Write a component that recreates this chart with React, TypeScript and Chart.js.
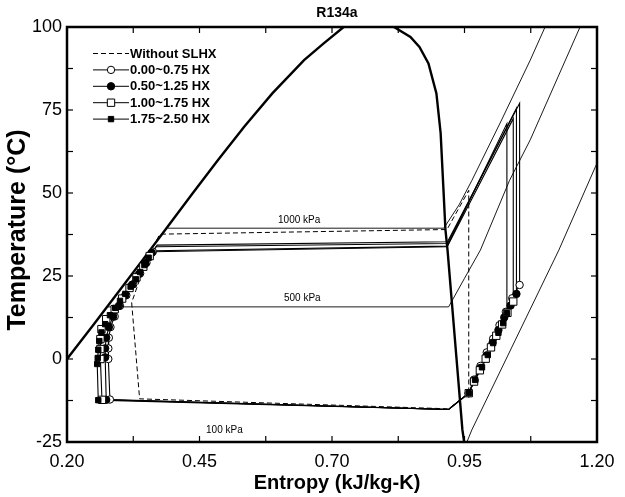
import React, { useEffect, useRef } from 'react';
import { Chart, registerables } from 'chart.js';

Chart.register(...registerables);

type P = [number, number];

// axis ticks
const xTicks = [0.2, 0.45, 0.7, 0.95, 1.2];
const xMinor = [0.325, 0.575, 0.825, 1.075];
const yTicks = [-25, 0, 25, 50, 75, 100];
const yMinor = [-12.5, 12.5, 37.5, 62.5, 87.5];

// saturation dome (entropy, temperature)
const dome: P[] = [
  [0.141, -12], [0.2, 0], [0.2485, 10], [0.2962, 20], [0.3435, 30], [0.3905, 40], [0.4375, 50],
  [0.4853, 60], [0.5347, 70], [0.5874, 80], [0.6473, 90], [0.6838, 95], [0.722, 100], [0.745, 101.3],
  [0.77, 101.7], [0.795, 101.3], [0.817, 100], [0.848, 97], [0.865, 94], [0.882, 89], [0.897, 80],
  [0.905, 68], [0.91, 52], [0.914, 39], [0.918, 32.8], [0.935, 0], [0.946, -21.3], [0.952, -28],
];

// isobars
const iso1000: P[] = [[0.39, 39.4], [0.911, 39.4], [0.94, 46.5], [0.964, 53.8], [1.02, 72], [1.074, 90], [1.102, 100], [1.13, 110]];
const iso500: P[] = [[0.277, 15.7], [0.92, 15.7], [0.95, 24.3], [0.98, 32.8], [1.035, 53.8], [1.074, 66], [1.168, 100], [1.2, 112]];
const iso100: P[] = [[0.951, -26.4], [0.964, -21.3], [1.128, 32.8], [1.197, 57.9], [1.22, 66]];
const isoLabels = ['1000 kPa', '500 kPa', '100 kPa'];
const isoLabelAt: P[] = [[0.638, 41.8], [0.644, 18.2], [0.497, -21.5]];

// cycle without SLHX
const noHx: P[] = [
  [0.322, 17], [0.337, -12.0], [0.92, -15.0], [0.958, -10.3], [0.958, 50.8], [0.917, 39.0],
  [0.375, 37.6], [0.36, 33], [0.345, 27.5], [0.322, 17],
];

// 0.00~0.75 HX
const condA: P[] = [[0.918, 35.3], [0.37, 34.3]];
const liqA: P[] = [[0.362, 32.3], [0.35, 29], [0.338, 25.8], [0.325, 22.5], [0.312, 19.2], [0.3, 16], [0.29, 12.8], [0.282, 9.6], [0.279, 6.4], [0.278, 3.2], [0.278, 0]];
const evapA: P[] = [[0.281, -12.2], [0.92, -15.2]];
const vapA: P[] = [[0.958, -10.3], [0.968, -6.2], [0.98, -2.1], [0.992, 2], [1.004, 6.1], [1.016, 10.2], [1.028, 14.2], [1.04, 18.3], [1.054, 22.3]];
const dischA: P[] = [[1.054, 77], [0.918, 35.3]];

// 0.50~1.25 HX
const condB: P[] = [[0.918, 34.8], [0.368, 33.8]];
const liqB: P[] = [[0.36, 32], [0.348, 28.8], [0.336, 25.6], [0.323, 22.4], [0.31, 19.2], [0.298, 16], [0.287, 12.8], [0.279, 9.6], [0.274, 6.4], [0.272, 3.2], [0.272, 0.5]];
const evapB: P[] = [[0.274, -12.3], [0.92, -15.2]];
const vapB: P[] = [[0.958, -10.3], [0.969, -6.5], [0.98, -2.7], [0.992, 1.1], [1.003, 4.9], [1.014, 8.7], [1.025, 12.5], [1.037, 16.1], [1.048, 19.6]];
const dischB: P[] = [[1.048, 75.5], [0.918, 34.8]];

// 1.00~1.75 HX
const condC: P[] = [[0.918, 34.0], [0.365, 32.6]];
const liqC: P[] = [[0.356, 31], [0.344, 27.8], [0.331, 24.6], [0.318, 21.4], [0.304, 18.2], [0.29, 15], [0.274, 12], [0.265, 9], [0.263, 6], [0.263, 3], [0.263, 0]];
const evapC: P[] = [[0.266, -12.3], [0.92, -15.2]];
const vapC: P[] = [[0.958, -10.3], [0.968, -6.8], [0.979, -3.4], [0.99, 0.1], [1.0, 3.5], [1.01, 7], [1.021, 10.4], [1.031, 13.9], [1.042, 17.3]];
const dischC: P[] = [[1.042, 72.4], [0.918, 34.0]];

// 1.75~2.50 HX
const condD: P[] = [[0.917, 33.8], [0.362, 32.3]];
const liqD: P[] = [[0.354, 30.5], [0.346, 28.3], [0.338, 26.2], [0.33, 24], [0.32, 21.8], [0.31, 19.6], [0.3, 17.5], [0.291, 15.4], [0.281, 13.2], [0.272, 10.5], [0.265, 8], [0.261, 5.4], [0.259, 2.8], [0.258, 0.3], [0.257, -1.5]];
const evapD: P[] = [[0.259, -12.4], [0.92, -15.2]];
const vapD: P[] = [[0.958, -10.3], [0.97, -6.3], [0.983, -2.5], [0.994, 1.2], [1.004, 4.8], [1.014, 7.9], [1.023, 10.8], [1.03, 13.8]];
const dischD: P[] = [[1.03, 70.9], [0.917, 33.8]];

const legendLabels = ['Without SLHX', '0.00~0.75 HX', '0.50~1.25 HX', '1.00~1.75 HX', '1.75~2.50 HX'];

const FONT = '"Liberation Sans", Arial, Helvetica, sans-serif';

const toXY = (pts: P[]) => pts.map(([x, y]) => ({ x, y }));

type MarkerKind = 'oc' | 'fc' | 'os' | 'fs';
const markerStyle: Record<MarkerKind, any> = {
  oc: { pointStyle: 'circle', pointRadius: 3.7, pointBackgroundColor: '#fff', pointBorderColor: '#000', pointBorderWidth: 1 },
  fc: { pointStyle: 'circle', pointRadius: 3.7, pointBackgroundColor: '#000', pointBorderColor: '#000', pointBorderWidth: 1 },
  os: { pointStyle: 'rect', pointRadius: 5.2, pointBackgroundColor: '#fff', pointBorderColor: '#000', pointBorderWidth: 1 },
  fs: { pointStyle: 'rect', pointRadius: 3.8, pointBackgroundColor: '#000', pointBorderColor: '#000', pointBorderWidth: 1 },
};

function drawMarker(ctx: CanvasRenderingContext2D, kind: MarkerKind, x: number, y: number) {
  const s = markerStyle[kind];
  ctx.beginPath();
  if (s.pointStyle === 'circle') {
    ctx.arc(x, y, s.pointRadius, 0, Math.PI * 2);
  } else {
    const h = s.pointRadius * Math.SQRT1_2;
    ctx.rect(x - h, y - h, 2 * h, 2 * h);
  }
  ctx.fillStyle = s.pointBackgroundColor;
  ctx.fill();
  ctx.lineWidth = 1;
  ctx.strokeStyle = '#000';
  ctx.stroke();
}

const decor = {
  id: 'decor',
  afterDraw(chart: any) {
    const { ctx, chartArea: a, scales } = chart;
    const x = scales.x;
    const y = scales.y;
    ctx.save();
    ctx.strokeStyle = '#000';
    ctx.lineWidth = 1.2;
    const tl = 6;
    const seg = (x1: number, y1: number, x2: number, y2: number) => {
      ctx.beginPath();
      ctx.moveTo(x1, y1);
      ctx.lineTo(x2, y2);
      ctx.stroke();
    };
    [...xTicks, ...xMinor].forEach((v) => {
      const px = x.getPixelForValue(v);
      seg(px, a.bottom, px, a.bottom - tl);
      seg(px, a.top, px, a.top + tl);
    });
    [...yTicks, ...yMinor].forEach((v) => {
      const py = y.getPixelForValue(v);
      seg(a.left, py, a.left + tl, py);
      seg(a.right, py, a.right - tl, py);
    });
    ctx.lineWidth = 2.5;
    ctx.strokeRect(a.left, a.top, a.right - a.left, a.bottom - a.top);

    ctx.fillStyle = '#000';
    // title
    ctx.font = `bold 14px ${FONT}`;
    ctx.textAlign = 'center';
    ctx.textBaseline = 'middle';
    ctx.fillText('R134a', 337, 13);
    // axis titles
    ctx.font = `bold 20px ${FONT}`;
    ctx.fillText('Entropy (kJ/kg-K)', 337, 483);
    ctx.save();
    ctx.font = `bold 25px ${FONT}`;
    ctx.translate(18, 230);
    ctx.rotate(-Math.PI / 2);
    ctx.fillText('Temperature (\u00B0C)', 0, 0);
    ctx.restore();

    // isobar labels
    ctx.font = `10px ${FONT}`;
    isoLabels.forEach((t, i) => {
      const [s, T] = isoLabelAt[i];
      ctx.fillText(t, x.getPixelForValue(s), y.getPixelForValue(T));
    });

    // legend
    const kinds: (MarkerKind | 'dash')[] = ['dash', 'oc', 'fc', 'os', 'fs'];
    ctx.font = `bold 13px ${FONT}`;
    ctx.textAlign = 'left';
    legendLabels.forEach((label, i) => {
      const yy = 53.5 + i * 16.4;
      const k = kinds[i];
      ctx.lineWidth = 1;
      ctx.strokeStyle = '#000';
      if (k === 'dash') {
        ctx.setLineDash([5, 3]);
        seg(93, yy, 129, yy);
        ctx.setLineDash([]);
      } else {
        seg(93, yy, 129, yy);
        drawMarker(ctx, k, 111, yy);
      }
      ctx.fillStyle = '#000';
      ctx.fillText(label, 130, yy + 0.5);
    });
    ctx.restore();
  },
};

const lineDs = (pts: P[], extra: any = {}) => ({
  data: toXY(pts),
  showLine: true,
  borderColor: '#000',
  borderWidth: 1.1,
  pointRadius: 0,
  pointHoverRadius: 0,
  tension: 0,
  fill: false,
  order: 1,
  ...extra,
});

const markerDs = (pts: P[], kind: MarkerKind, order: number) => ({
  data: toXY(pts),
  showLine: false,
  order,
  ...markerStyle[kind],
  pointHoverRadius: markerStyle[kind].pointRadius,
});

export default function App() {
  const ref = useRef<HTMLCanvasElement | null>(null);
  useEffect(() => {
    if (!ref.current) return;
    const cycles: { c: P[]; l: P[]; e: P[]; v: P[]; d: P[]; k: MarkerKind; o: number }[] = [
      { c: condA, l: liqA, e: evapA, v: vapA, d: dischA, k: 'oc', o: 0.3 },
      { c: condB, l: liqB, e: evapB, v: vapB, d: dischB, k: 'fc', o: 0.2 },
      { c: condC, l: liqC, e: evapC, v: vapC, d: dischC, k: 'os', o: 0.1 },
      { c: condD, l: liqD, e: evapD, v: vapD, d: dischD, k: 'fs', o: 0 },
    ];
    const datasets: any[] = [];
    cycles.forEach((cy) => {
      datasets.push(markerDs([...cy.l, cy.e[0], ...cy.v], cy.k, cy.o));
      datasets.push(lineDs([...cy.c, ...cy.l, ...cy.e, ...cy.v, ...cy.d]));
    });
    datasets.push(lineDs(noHx, { borderDash: [5, 3], borderWidth: 1 }));
    datasets.push(lineDs(dome, { borderWidth: 2.4, order: 2 }));
    datasets.push(lineDs(iso1000, { borderWidth: 0.9, order: 3 }));
    datasets.push(lineDs(iso500, { borderWidth: 0.9, order: 3 }));
    datasets.push(lineDs(iso100, { borderWidth: 0.9, order: 3 }));

    const chart = new Chart(ref.current, {
      type: 'scatter',
      data: { datasets },
      options: {
        responsive: false,
        animation: false,
        devicePixelRatio: 1,
        layout: { padding: { left: 0, right: 28, top: 27, bottom: 0 } },
        plugins: { legend: { display: false }, tooltip: { enabled: false }, title: { display: false } },
        events: [],
        scales: {
          x: {
            type: 'linear',
            min: 0.2,
            max: 1.2,
            grid: { display: false, drawTicks: false },
            border: { display: false },
            afterBuildTicks: (ax: any) => { ax.ticks = xTicks.map((v) => ({ value: v })); },
            afterFit: (ax: any) => { ax.height = 55; },
            ticks: {
              autoSkip: false,
              maxRotation: 0,
              padding: 9,
              color: '#000',
              font: { family: FONT, size: 18 },
              callback: (v: any) => Number(v).toFixed(2),
            },
          },
          y: {
            type: 'linear',
            min: -25,
            max: 100,
            grid: { display: false, drawTicks: false },
            border: { display: false },
            afterBuildTicks: (ax: any) => { ax.ticks = yTicks.map((v) => ({ value: v })); },
            afterFit: (ax: any) => { ax.width = 67; },
            ticks: {
              autoSkip: false,
              padding: 5,
              color: '#000',
              font: { family: FONT, size: 18 },
              callback: (v: any) => String(v),
            },
          },
        },
      },
      plugins: [decor],
    });
    return () => chart.destroy();
  }, []);
  return (
    <canvas
      ref={ref}
      width={625}
      height={497}
      style={{ position: 'absolute', left: 0, top: 0, width: 625, height: 497, background: '#fff' }}
    />
  );
}
